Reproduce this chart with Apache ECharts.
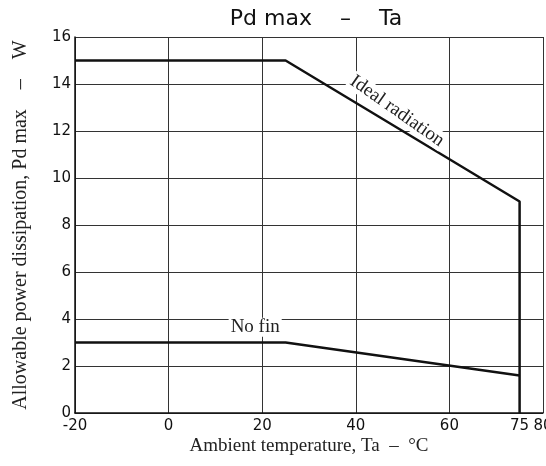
<!DOCTYPE html>
<html>
<head>
<meta charset="utf-8">
<script src="https://cdn.jsdelivr.net/npm/echarts@6/dist/echarts.min.js"></script>
<style>
  html, body { margin: 0; padding: 0; background: #fff; }
  #chart { width: 546px; height: 466px; }
</style>
</head>
<body>
<div id="chart"></div>
<script>
// curve data
const idealTemp = [-20, 25, 75, 75];
const idealPd = [15, 15, 9, 0];
const noFinTemp = [-20, 25, 75];
const noFinPd = [3, 3, 1.6];
const xLabels = [-20, 0, 20, 40, 60, 75, 80];

const chart = echarts.init(document.getElementById('chart'));
const serif = '"Liberation Serif", "DejaVu Serif", serif';
const sans = '"DejaVu Sans", "Noto Sans", sans-serif';

const lineLabel = (text, coord, rotate) => ({
  coord: coord,
  symbol: 'circle',
  symbolSize: 2,
  itemStyle: { color: 'rgba(0,0,0,0)' },
  label: {
    show: true,
    position: 'inside',
    formatter: text,
    rotate: rotate,
    fontFamily: serif,
    fontSize: 19,
    color: '#222',
    backgroundColor: '#fff',
    padding: [0, 2]
  }
});

const option = {
  animation: false,
  title: {
    text: 'Pd max    –    Ta',
    left: 311,
    textAlign: 'center',
    top: 3,
    textStyle: { fontFamily: sans, fontWeight: 'normal', fontSize: 22, color: '#111' }
  },
  grid: { left: 75, right: 3, top: 37, bottom: 53, outerBoundsMode: 'none' },
  xAxis: {
    type: 'value',
    min: -20,
    max: 80,
    interval: 20,
    name: 'Ambient temperature, Ta  –  °C',
    nameLocation: 'middle',
    nameGap: 24,
    nameMoveOverlap: false,
    nameTextStyle: { fontFamily: serif, fontSize: 19, color: '#222' },
    axisLine: { lineStyle: { color: '#111', width: 1.5 } },
    axisTick: { show: false },
    axisLabel: {
      customValues: xLabels,
      margin: 6,
      fontFamily: sans,
      fontSize: 15,
      color: '#111'
    },
    splitLine: { show: true, lineStyle: { color: '#333', width: 1 } }
  },
  yAxis: {
    type: 'value',
    min: 0,
    max: 16,
    interval: 2,
    name: 'Allowable power dissipation, Pd max    –    W',
    nameLocation: 'middle',
    nameGap: 44,
    nameMoveOverlap: false,
    nameTextStyle: { fontFamily: serif, fontSize: 20, color: '#222' },
    axisLine: { show: true, onZero: false, lineStyle: { color: '#111', width: 1.5 } },
    axisTick: { show: false },
    axisLabel: { margin: 4, fontFamily: sans, fontSize: 15, color: '#111' },
    splitLine: { show: true, lineStyle: { color: '#333', width: 1 } }
  },
  series: [
    {
      name: 'Ideal radiation',
      type: 'line',
      symbol: 'none',
      z: 3,
      data: idealTemp.map((t, i) => [t, idealPd[i]]),
      lineStyle: { color: '#111', width: 2.5 },
      markPoint: { data: [lineLabel('Ideal radiation', [48.8, 12.85], -35)] }
    },
    {
      name: 'No fin',
      type: 'line',
      symbol: 'none',
      z: 3,
      data: noFinTemp.map((t, i) => [t, noFinPd[i]]),
      lineStyle: { color: '#111', width: 2.5 },
      markPoint: { data: [lineLabel('No fin', [18.5, 3.65], 0)] }
    }
  ]
};

chart.setOption(option);
</script>
</body>
</html>
